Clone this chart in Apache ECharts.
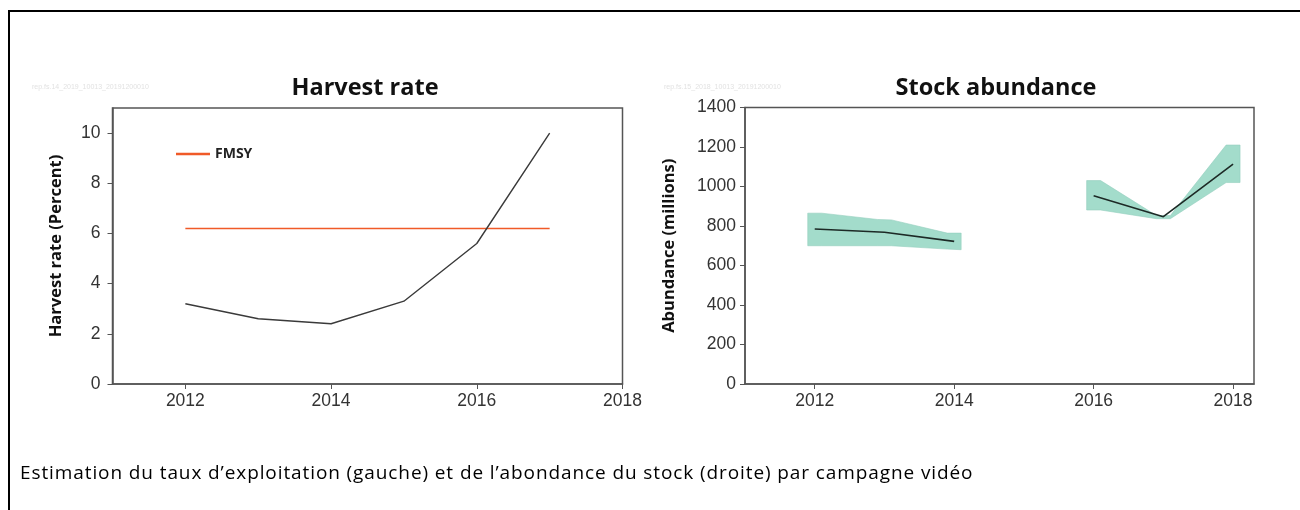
<!DOCTYPE html>
<html>
<head>
<meta charset="utf-8">
<script src="https://cdn.jsdelivr.net/npm/echarts@6/dist/echarts.min.js"></script>
<style>
html,body{margin:0;padding:0;background:#fff;}
#wrap{position:relative;width:1300px;height:510px;overflow:hidden;}
#chart{position:absolute;left:0;top:0;width:1300px;height:510px;}
#frameTop{position:absolute;left:8px;top:10px;width:1292px;height:2px;background:#000;}
#frameLeft{position:absolute;left:8px;top:10px;width:2px;height:500px;background:#000;}
#caption{position:absolute;left:20px;top:459px;font-family:"Open Sans",sans-serif;font-size:19px;letter-spacing:0.9px;color:#000;white-space:nowrap;}
</style>
</head>
<body>
<div id="wrap">
<div id="chart"></div>
<div id="frameTop"></div>
<div id="frameLeft"></div>
<div id="caption">Estimation du taux d’exploitation (gauche) et de l’abondance du stock (droite) par campagne vidéo</div>
</div>
<script>
// ---- data ----
const harvestYears = [2012, 2013, 2014, 2015, 2016, 2017];
const harvestRate = [3.2, 2.6, 2.4, 3.3, 5.6, 10.0];
const fmsyYears = [2012, 2017];
const fmsyValue = [6.2, 6.2];
const harvestYTicks = [0, 2, 4, 6, 8, 10];
const yearTicks = [2012, 2014, 2016, 2018];

const abundYears = [2012, 2013, 2014, 2015, 2016, 2017, 2018];
const abundance = [785, 768, 722, null, 953, 847, 1113];
const band1X = [2011.9, 2012.1, 2012.9, 2013.1, 2013.9, 2014.1];
const band1Hi = [865, 865, 833, 831, 764, 764];
const band1Lo = [700, 700, 700, 700, 683, 680];
const band2X = [2015.9, 2016.1, 2016.9, 2017.1, 2017.9, 2018.1];
const band2Hi = [1030, 1030, 853, 853, 1210, 1210];
const band2Lo = [881, 881, 837, 837, 1020, 1020];

const titles = ['Harvest rate', 'Stock abundance'];
const yNames = ['Harvest rate (Percent)', 'Abundance (millions)'];
const watermarks = ['rep.fs.14_2019_10013_20191200010', 'rep.fs.15_2018_10013_20191200010'];

// ---- chart ----
const chart = echarts.init(document.getElementById('chart'), null, {renderer: 'canvas'});
const tickFont = '"Liberation Sans",sans-serif';
const axisCol = '#555';
const plain = v => String(v);

function pairs(xs, ys) { return xs.map((x, i) => [x, ys[i]]); }

function makeBandSeries(xs, lo, hi) {
  const items = xs.map((x, i) => [x, lo[i], hi[i]]);
  return {
    type: 'custom',
    xAxisIndex: 1, yAxisIndex: 1,
    silent: true,
    z: 1,
    data: items,
    renderItem: function (params, api) {
      if (params.dataIndex !== 0) return null;
      const top = items.map(d => api.coord([d[0], d[2]]));
      const bot = items.map(d => api.coord([d[0], d[1]])).reverse();
      return {
        type: 'polygon',
        shape: {points: top.concat(bot)},
        style: {fill: '#a3dccb', stroke: '#93cfbd', lineWidth: 0.6}
      };
    }
  };
}

const titleStyle = {fontFamily: '"Open Sans",sans-serif', fontSize: 23.5, fontWeight: 'bold', color: '#111'};
const nameStyle = {fontFamily: '"Open Sans",sans-serif', fontSize: 16.5, fontWeight: 'bold', color: '#111'};
const labelBase = {fontFamily: tickFont, fontSize: 17.5, color: '#333', formatter: plain};

const option = {
  animation: false,
  title: [
    {text: titles[0], left: 360, top: 71, textAlign: 'center', textStyle: titleStyle},
    {text: titles[1], left: 991, top: 71, textAlign: 'center', textStyle: titleStyle}
  ],
  graphic: [
    {type: 'text', left: 32, top: 84, style: {text: watermarks[0], fill: '#e2e2e2', font: '7px "Liberation Sans",sans-serif'}},
    {type: 'text', left: 664, top: 84, style: {text: watermarks[1], fill: '#e2e2e2', font: '7px "Liberation Sans",sans-serif'}}
  ],
  legend: {
    data: ['FMSY'],
    left: 171, top: 142,
    icon: 'rect', itemWidth: 34, itemHeight: 2.5, itemGap: 8,
    textStyle: {fontFamily: '"Open Sans",sans-serif', fontSize: 14, fontWeight: 'bold', color: '#222'}
  },
  grid: [
    {left: 112.5, right: 677.5, top: 108, bottom: 126, show: true, borderColor: axisCol, borderWidth: 1.5},
    {left: 745, right: 46, top: 107.5, bottom: 126, show: true, borderColor: axisCol, borderWidth: 1.5}
  ],
  xAxis: [
    {gridIndex: 0, type: 'value', min: 2011, max: 2018,
     axisLine: {lineStyle: {color: axisCol, width: 1.5}},
     axisTick: {show: true, length: 5, customValues: yearTicks, lineStyle: {color: axisCol}},
     axisLabel: Object.assign({customValues: yearTicks, margin: 8}, labelBase),
     splitLine: {show: false}},
    {gridIndex: 1, type: 'value', min: 2011, max: 2018.3,
     axisLine: {lineStyle: {color: axisCol, width: 1.5}},
     axisTick: {show: true, length: 5, customValues: yearTicks, lineStyle: {color: axisCol}},
     axisLabel: Object.assign({customValues: yearTicks, margin: 8}, labelBase),
     splitLine: {show: false}}
  ],
  yAxis: [
    {gridIndex: 0, type: 'value', min: 0, max: 11,
     name: yNames[0], nameLocation: 'middle', nameRotate: 90, nameGap: 48,
     nameTextStyle: nameStyle,
     axisLine: {show: true, lineStyle: {color: axisCol, width: 1.5}},
     axisTick: {show: true, length: 5, customValues: harvestYTicks, lineStyle: {color: axisCol}},
     axisLabel: Object.assign({customValues: harvestYTicks, margin: 12}, labelBase),
     splitLine: {show: false}},
    {gridIndex: 1, type: 'value', min: 0, max: 1400, interval: 200,
     name: yNames[1], nameLocation: 'middle', nameRotate: 90, nameGap: 67,
     nameTextStyle: nameStyle,
     axisLine: {show: true, lineStyle: {color: axisCol, width: 1.5}},
     axisTick: {show: true, length: 5, lineStyle: {color: axisCol}},
     axisLabel: Object.assign({margin: 9}, labelBase),
     splitLine: {show: false}}
  ],
  series: [
    {name: 'FMSY', type: 'line', xAxisIndex: 0, yAxisIndex: 0,
     data: pairs(fmsyYears, fmsyValue), showSymbol: false, symbol: 'none',
     lineStyle: {color: '#f05a28', width: 1.5}, itemStyle: {color: '#f05a28'}, z: 2},
    {name: 'Harvest rate', type: 'line', xAxisIndex: 0, yAxisIndex: 0,
     data: pairs(harvestYears, harvestRate), showSymbol: false, symbol: 'none',
     lineStyle: {color: '#3a3a3a', width: 1.4}, itemStyle: {color: '#3a3a3a'}, z: 3},
    makeBandSeries(band1X, band1Lo, band1Hi),
    makeBandSeries(band2X, band2Lo, band2Hi),
    {name: 'Abundance', type: 'line', xAxisIndex: 1, yAxisIndex: 1,
     data: pairs(abundYears, abundance), connectNulls: false, showSymbol: false, symbol: 'none',
     lineStyle: {color: '#1d2a26', width: 1.6}, itemStyle: {color: '#1d2a26'}, z: 3}
  ]
};
chart.setOption(option);
</script>
</body>
</html>
